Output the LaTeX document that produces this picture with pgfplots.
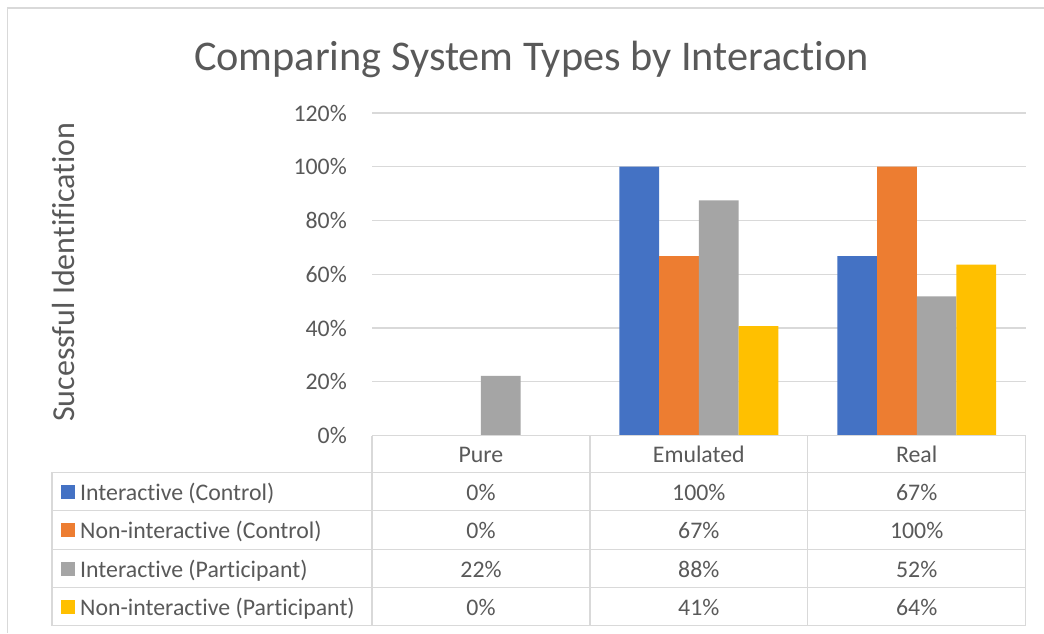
\documentclass[border=0pt]{standalone}
\usepackage{pgfplots}
\pgfplotsset{compat=1.18}
\usepackage{fontspec}
\setmainfont{Carlito}[Ligatures={NoCommon}]
\definecolor{cblue}{HTML}{4472C4}
\definecolor{corange}{HTML}{ED7D31}
\definecolor{cgray}{HTML}{A5A5A5}
\definecolor{cyellow}{HTML}{FFC000}
\definecolor{tgray}{HTML}{595959}
\definecolor{lgray}{HTML}{D9D9D9}
\newcommand{\tfont}{\fontsize{23.8}{26}\selectfont}
\begin{document}
\begin{tikzpicture}[x=1pt,y=1pt]
\path[use as bounding box] (0,0) rectangle (1044,633);
\fill[white] (0,0) rectangle (1044,633);
\draw[lgray, line width=1.3pt] (7.5,0) -- (7.5,625) -- (1044,625);
% title
\node[anchor=base, text=tgray, font=\fontsize{42.3}{46}\selectfont, inner sep=0] at (531.5,562.3) {Comparing System Types by Interaction};
% y label
\node[anchor=base, rotate=90, text=tgray, font=\fontsize{32}{36}\selectfont, inner sep=0] at (74.5,361) {Sucessful Identification};
\begin{axis}[
  at={(372pt,197.5pt)}, anchor=south west,
  width=653.7pt, height=322.5pt, scale only axis,
  xmin=0, xmax=3, ymin=0, ymax=120,
  ybar=0pt, bar width=39.7pt,
  axis line style={draw=none},
  xtick=\empty,
  ytick={0,20,...,120},
  major tick length=0pt,
  ymajorgrids,
  grid style={lgray, line width=1.2pt},
  /pgf/number format/assume math mode=true,
  yticklabel={\pgfmathprintnumber{\tick}\%},
  yticklabel style={font=\tfont, text=tgray, inner sep=0pt, xshift=-25pt},
  clip=false,
]
\addplot[fill=cblue, draw=none] coordinates {(0.5,0) (1.5,100) (2.5,66.7)};
\addplot[fill=corange, draw=none] coordinates {(0.5,0) (1.5,66.7) (2.5,100)};
\addplot[fill=cgray, draw=none] coordinates {(0.5,22.2) (1.5,87.5) (2.5,51.8)};
\addplot[fill=cyellow, draw=none] coordinates {(0.5,0) (1.5,40.7) (2.5,63.6)};
\end{axis}
% data table
\begin{scope}[lgray, line width=1.2pt]
\draw (372,197.5) -- (1025.7,197.5);
\foreach \y in {160.7,122.3,83.7,45.3,7.3} \draw (52,\y) -- (1025.7,\y);
\draw (52,160.7) -- (52,7.3);
\foreach \x in {372,590,807.8,1025.7} \draw (\x,197.5) -- (\x,7.3);
\end{scope}
\begin{scope}[every node/.style={font=\tfont, text=tgray, inner sep=0, anchor=base}]
\node at (481,170.5) {Pure};
\node at (698.8,170.5) {Emulated};
\node at (916.7,170.5) {Real};
% rows
\fill[cblue] (61,134.5) rectangle (75,148.5);
\node[anchor=base west] at (80,133) {Interactive (Control)};
\node at (481,133) {0\%};\node at (698.8,133) {100\%};\node at (916.7,133) {67\%};
\fill[corange] (61,96.1) rectangle (75,110.1);
\node[anchor=base west] at (80,94.6) {Non-interactive (Control)};
\node at (481,94.6) {0\%};\node at (698.8,94.6) {67\%};\node at (916.7,94.6) {100\%};
\fill[cgray] (61,57.5) rectangle (75,71.5);
\node[anchor=base west] at (80,56) {Interactive (Participant)};
\node at (481,56) {22\%};\node at (698.8,56) {88\%};\node at (916.7,56) {52\%};
\fill[cyellow] (61,19.3) rectangle (75,33.3);
\node[anchor=base west] at (80,17.8) {Non-interactive (Participant)};
\node at (481,17.8) {0\%};\node at (698.8,17.8) {41\%};\node at (916.7,17.8) {64\%};
\end{scope}
\end{tikzpicture}
\end{document}
